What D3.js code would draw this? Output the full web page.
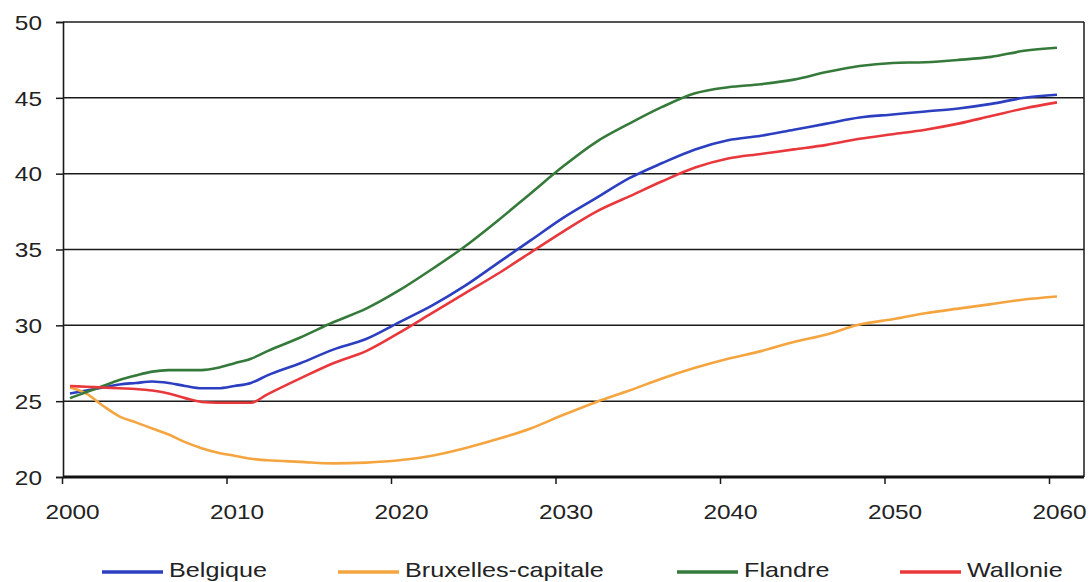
<!DOCTYPE html>
<html>
<head>
<meta charset="utf-8">
<script src="https://cdn.jsdelivr.net/npm/d3@7"></script>
<style>
  body { margin: 0; background: #fff; }
  text { font-family: "Liberation Sans", Arial, sans-serif; fill: #222; }
</style>
</head>
<body>
<div id="main"></div>
<script>
const ctx = {
    w: 1089,
    h: 582,
    LEFT: 63,
    RIGHT: 1084,
    TOP: 22,
    BOTTOM: 477,
    X0: 70,
    X1: 1057,
    LINE_W: 2.6,
    FONT: 20,
    STRETCH: 1.22,   // the original text is drawn wider than normal
    LEG_STRETCH: 1.26
};

// years: yearly until 2012, then every two years
const years = [2000, 2001, 2002, 2003, 2004, 2005, 2006, 2007, 2008, 2009, 2010, 2011, 2012,
               2014, 2016, 2018, 2020, 2022, 2024, 2026, 2028, 2030, 2032, 2034, 2036, 2038,
               2040, 2042, 2044, 2046, 2048, 2050, 2052, 2054, 2056, 2058, 2060];

const belgique = [25.5, 25.7, 25.9, 26.1, 26.2, 26.3, 26.2, 26.0, 25.85, 25.85, 26.0, 26.2, 26.7,
                  27.5, 28.4, 29.1, 30.2, 31.3, 32.6, 34.1, 35.6, 37.1, 38.4, 39.7, 40.7, 41.6,
                  42.2, 42.5, 42.9, 43.3, 43.7, 43.9, 44.1, 44.3, 44.6, 45.0, 45.2];
const bruxelles = [25.9, 25.5, 24.7, 24.0, 23.6, 23.2, 22.8, 22.3, 21.9, 21.6, 21.4, 21.2, 21.1,
                   21.0, 20.9, 20.95, 21.1, 21.4, 21.9, 22.5, 23.2, 24.1, 24.95, 25.7, 26.5, 27.2,
                   27.8, 28.3, 28.9, 29.4, 30.05, 30.4, 30.8, 31.1, 31.4, 31.7, 31.9];
const flandre = [25.2, 25.6, 26.0, 26.4, 26.7, 26.95, 27.05, 27.05, 27.05, 27.2, 27.5, 27.8, 28.3,
                 29.2, 30.2, 31.1, 32.3, 33.7, 35.2, 36.9, 38.7, 40.5, 42.1, 43.3, 44.4, 45.3,
                 45.7, 45.9, 46.2, 46.7, 47.1, 47.3, 47.35, 47.5, 47.7, 48.1, 48.3];
const wallonie = [26.0, 25.95, 25.9, 25.85, 25.8, 25.7, 25.5, 25.2, 24.95, 24.9, 24.9, 24.9, 25.45,
                  26.5, 27.5, 28.3, 29.5, 30.8, 32.1, 33.4, 34.8, 36.2, 37.5, 38.5, 39.5, 40.4,
                  41.0, 41.3, 41.6, 41.9, 42.3, 42.6, 42.9, 43.3, 43.8, 44.3, 44.7];

const seriesNames = ["Belgique", "Bruxelles-capitale", "Flandre", "Wallonie"];
const seriesColors = ["#2b3fc0", "#f5a540", "#357a3a", "#e8383c"];
const seriesValues = [belgique, bruxelles, flandre, wallonie];

const yTicks = [20, 25, 30, 35, 40, 45, 50];
const xTicks = [2000, 2010, 2020, 2030, 2040, 2050, 2060];

function createViz(){
    let svg = d3.select("#main").append("svg")
        .attr("width", ctx.w)
        .attr("height", ctx.h);

    let xScale = d3.scaleLinear().domain([2000, 2060]).range([ctx.X0, ctx.X1]);
    let yScale = d3.scaleLinear().domain([20, 50]).range([ctx.BOTTOM, ctx.TOP]);

    // horizontal grid lines
    svg.append("g").selectAll("line")
        .data(yTicks.filter((d) => d > 20))
        .enter().append("line")
        .attr("x1", ctx.LEFT).attr("x2", ctx.RIGHT)
        .attr("y1", (d) => yScale(d)).attr("y2", (d) => yScale(d))
        .attr("stroke", "#1a1a1a").attr("stroke-width", 1.5);

    // right border
    svg.append("line")
        .attr("x1", ctx.RIGHT).attr("x2", ctx.RIGHT)
        .attr("y1", ctx.TOP).attr("y2", ctx.BOTTOM)
        .attr("stroke", "#1a1a1a").attr("stroke-width", 1.5);

    // y axis
    let yAxis = svg.append("g")
        .attr("transform", `translate(${ctx.LEFT},0)`)
        .call(d3.axisLeft(yScale).tickValues(yTicks).tickSize(7));
    yAxis.select(".domain").attr("stroke", "#1a1a1a").attr("stroke-width", 1.6);
    yAxis.selectAll(".tick line").attr("stroke", "#1a1a1a").attr("stroke-width", 1.5);
    yAxis.selectAll("text")
        .attr("x", 0).attr("dy", "0.36em")
        .attr("transform", `translate(-21,0) scale(${ctx.STRETCH},1)`)
        .style("font-size", ctx.FONT + "px").attr("fill", "#222");

    // x axis
    let xAxis = svg.append("g")
        .attr("transform", `translate(0,${ctx.BOTTOM})`)
        .call(d3.axisBottom(xScale).tickValues(xTicks).tickFormat(d3.format("d")).tickSize(7));
    xAxis.select(".domain").remove();
    xAxis.selectAll(".tick line")
        .attr("transform", "translate(-8,0)")
        .attr("stroke", "#1a1a1a").attr("stroke-width", 1.5);
    xAxis.selectAll("text")
        .attr("y", 0)
        .attr("transform", `translate(2,28) scale(${ctx.STRETCH},1)`)
        .style("font-size", ctx.FONT + "px").attr("fill", "#222");
    xAxis.append("line")
        .attr("x1", ctx.LEFT).attr("x2", ctx.RIGHT)
        .attr("y1", 0).attr("y2", 0)
        .attr("stroke", "#111").attr("stroke-width", 2.8);

    // series lines
    let lineGen = d3.line()
        .x((d) => xScale(d[0]))
        .y((d) => yScale(d[1]))
        .curve(d3.curveMonotoneX);

    seriesValues.forEach((vals, i) => {
        let pts = years.map((y, j) => [y, vals[j]]);
        svg.append("path")
            .datum(pts)
            .attr("d", lineGen)
            .attr("fill", "none")
            .attr("stroke", seriesColors[i])
            .attr("stroke-width", ctx.LINE_W)
            .attr("stroke-linejoin", "round");
    });

    // legend
    const legendX = [102, 338, 677, 900];
    let legend = svg.append("g").attr("transform", "translate(0,572)");
    seriesNames.forEach((name, i) => {
        let g = legend.append("g").attr("transform", `translate(${legendX[i]},0)`);
        g.append("line")
            .attr("x1", 0).attr("x2", 61)
            .attr("y1", 0).attr("y2", 0)
            .attr("stroke", seriesColors[i])
            .attr("stroke-width", 3.5);
        g.append("text")
            .attr("transform", `translate(67,5) scale(${ctx.LEG_STRETCH},1)`)
            .style("font-size", ctx.FONT + "px")
            .text(name);
    });
}

createViz();
</script>
</body>
</html>
